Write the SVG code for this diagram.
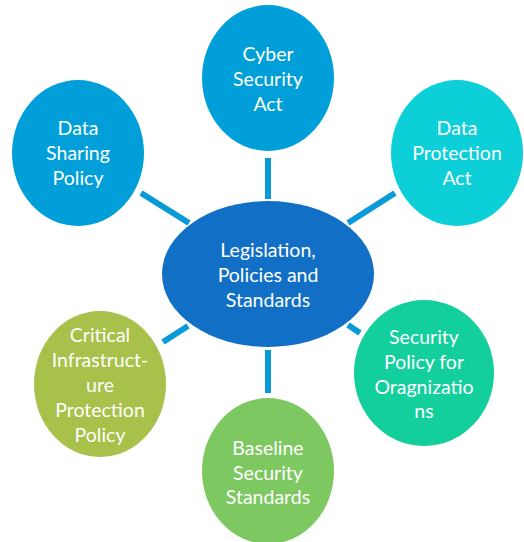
<svg xmlns="http://www.w3.org/2000/svg" width="524" height="542" viewBox="0 0 524 542">
<style>
.t{font-family:Lato,"Open Sans","Liberation Sans",sans-serif;font-size:19.5px;fill:#fff;text-anchor:middle}
.c{stroke:#0a9ad8;stroke-width:6;fill:none}
</style>
<rect width="524" height="542" fill="#fff"/>
<g id="connectors">
<line class="c" x1="268" y1="158" x2="268" y2="199"/>
<line class="c" x1="141" y1="193" x2="189" y2="223"/>
<line class="c" x1="395" y1="193" x2="348" y2="223"/>
<line class="c" x1="268" y1="350" x2="268" y2="393"/>
<line class="c" x1="188" y1="326" x2="163" y2="342"/>
<line class="c" x1="348" y1="325" x2="360" y2="333"/>
</g>
<g id="center">
<ellipse cx="268" cy="274" rx="106" ry="73" fill="#1170c6"/>
<text class="t" x="268" y="257">Legislation,</text>
<text class="t" x="268" y="282">Policies and</text>
<text class="t" x="268" y="307">Standards</text>
</g>
<g id="cyber">
<ellipse cx="268" cy="78" rx="66" ry="73" fill="#009fd9"/>
<text class="t" x="268" y="61">Cyber</text>
<text class="t" x="268" y="86">Security</text>
<text class="t" x="268" y="111">Act</text>
</g>
<g id="sharing">
<ellipse cx="78" cy="153" rx="66" ry="73" fill="#009fd9"/>
<text class="t" x="78" y="135">Data</text>
<text class="t" x="78" y="160">Sharing</text>
<text class="t" x="78" y="185">Policy</text>
</g>
<g id="protection">
<ellipse cx="457" cy="153" rx="66" ry="73" fill="#0ccfd8"/>
<text class="t" x="457" y="135">Data</text>
<text class="t" x="457" y="160">Protection</text>
<text class="t" x="457" y="185">Act</text>
</g>
<g id="critical">
<ellipse cx="100" cy="384" rx="66" ry="73" fill="#a8c14a"/>
<text class="t" x="100" y="342">Critical</text>
<text class="t" x="100" y="367">Infrastruct-</text>
<text class="t" x="100" y="392">ure</text>
<text class="t" x="100" y="417">Protection</text>
<text class="t" x="100" y="442">Policy</text>
</g>
<g id="baseline">
<ellipse cx="268" cy="471" rx="66" ry="73" fill="#7ec862"/>
<text class="t" x="268" y="455">Baseline</text>
<text class="t" x="268" y="480">Security</text>
<text class="t" x="268" y="504">Standards</text>
</g>
<g id="secpolicy">
<ellipse cx="424" cy="373" rx="70" ry="73" fill="#12cf9c"/>
<text class="t" x="424" y="344">Security</text>
<text class="t" x="424" y="369">Policy for</text>
<text class="t" x="424" y="394">Oragnizatio</text>
<text class="t" x="424" y="418">ns</text>
</g>
</svg>
